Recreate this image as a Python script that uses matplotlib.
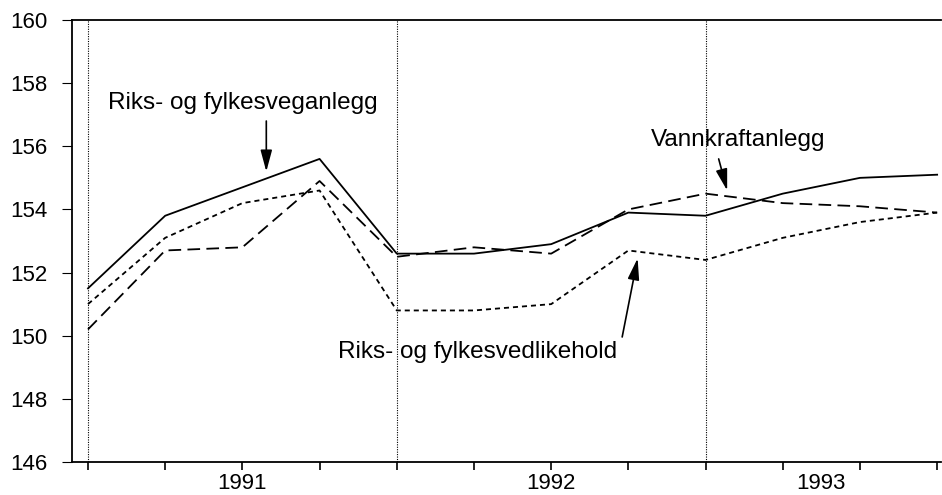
import matplotlib
matplotlib.use("Agg")
import matplotlib.pyplot as plt

matplotlib.rcParams["font.family"] = ["Liberation Sans", "DejaVu Sans"]

# quarterly index values, 12 quarters
quarters = list(range(12))
veganlegg = [151.5, 153.8, 154.7, 155.6, 152.6, 152.6, 152.9, 153.9, 153.8, 154.5, 155.0, 155.1]
vannkraft = [150.2, 152.7, 152.8, 154.9, 152.5, 152.8, 152.6, 154.0, 154.5, 154.2, 154.1, 153.9]
vedlikehold = [151.0, 153.1, 154.2, 154.6, 150.8, 150.8, 151.0, 152.7, 152.4, 153.1, 153.6, 153.9]

year_pos = [2, 6, 9.5]
year_labels = ["1991", "1992", "1993"]
year_breaks = [0, 4, 8]
y_ticks = [146, 148, 150, 152, 154, 156, 158, 160]

fig = plt.figure(figsize=(9.42, 4.95), dpi=100)
ax = fig.add_axes([72 / 942, 33 / 495, 869 / 942, 442 / 495])

for xb in year_breaks:
    ax.axvline(xb, color="black", linestyle=(0, (1, 1.2)), linewidth=0.8)

ax.plot(quarters, veganlegg, color="black", linewidth=1.3)
ax.plot(quarters, vannkraft, color="black", linewidth=1.3, dashes=(7, 3.5))
ax.plot(quarters, vedlikehold, color="black", linewidth=1.3, dashes=(2.8, 2.2))

ax.set_xlim(-0.207, 11.05)
ax.set_ylim(146, 160)
ax.set_yticks(y_ticks)
ax.xaxis.remove_overlapping_locs = False
ax.set_xticks(quarters)
ax.set_xticklabels([])
ax.set_xticks(year_pos, minor=True)
ax.set_xticklabels(year_labels, minor=True)
ax.tick_params(axis="x", which="major", direction="out", length=6, width=1.2)
ax.tick_params(axis="x", which="minor", length=0, pad=8, labelsize=16)
ax.tick_params(axis="y", direction="out", length=7, width=0.8, labelsize=16, pad=11)

ax.spines["right"].set_visible(False)
for s in ["left", "bottom", "top"]:
    ax.spines[s].set_linewidth(1.3)

arrow = dict(arrowstyle="-|>,head_length=1.3,head_width=0.35", color="black",
             lw=1.2, shrinkA=0, shrinkB=0)

ax.text(2.0, 157.36, "Riks- og fylkesveganlegg", ha="center", va="center", fontsize=17.5)
ax.annotate("", xy=(2.31, 155.2), xytext=(2.31, 156.8), arrowprops=arrow)

ax.text(8.42, 156.19, "Vannkraftanlegg", ha="center", va="center", fontsize=17.5)
ax.annotate("", xy=(8.28, 154.6), xytext=(8.17, 155.6), arrowprops=arrow)

ax.text(5.05, 149.48, "Riks- og fylkesvedlikehold", ha="center", va="center", fontsize=17.5)
ax.annotate("", xy=(7.12, 152.45), xytext=(6.92, 149.96), arrowprops=arrow)

fig.savefig("out.png", dpi=100)
